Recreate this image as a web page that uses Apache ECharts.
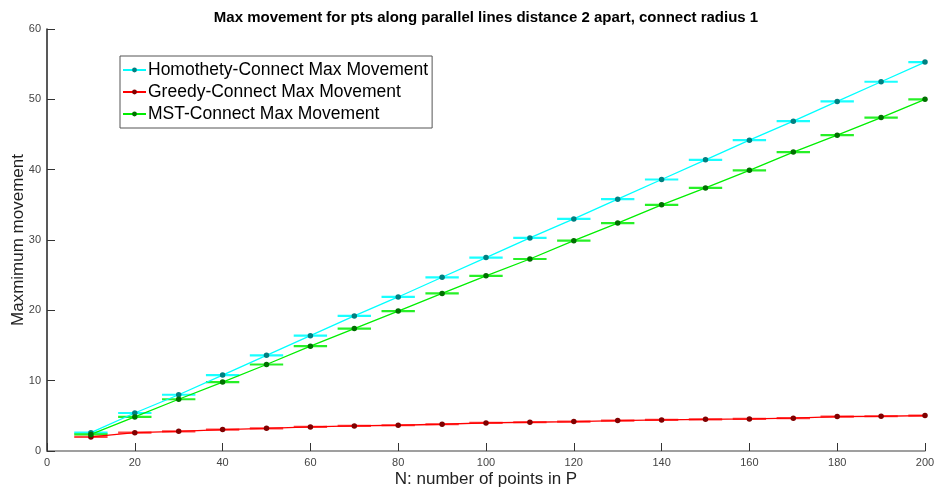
<!DOCTYPE html>
<html>
<head>
<meta charset="utf-8">
<script src="https://cdn.jsdelivr.net/npm/echarts@6/dist/echarts.min.js"></script>
<style>
  html, body { margin: 0; padding: 0; background: #fff; }
  #chart { width: 937px; height: 494px; }
</style>
</head>
<body>
<div id="chart"></div>
<script>
// Number of points in P
const nPoints = [10, 20, 30, 40, 50, 60, 70, 80, 90, 100, 110, 120, 130, 140, 150, 160, 170, 180, 190, 200];

// Max movement per connect strategy
const homothetyMax = [2.6, 5.4, 8.0, 10.8, 13.6, 16.4, 19.2, 21.9, 24.7, 27.5, 30.3, 33.0, 35.8, 38.6, 41.4, 44.2, 46.9, 49.7, 52.5, 55.3];
const greedyMax    = [2.0, 2.6, 2.8, 3.05, 3.23, 3.42, 3.57, 3.66, 3.8, 3.99, 4.09, 4.19, 4.33, 4.42, 4.5, 4.56, 4.66, 4.9, 4.94, 5.04];
const mstMax       = [2.35, 4.85, 7.36, 9.8, 12.3, 14.9, 17.4, 19.9, 22.4, 24.9, 27.3, 29.9, 32.4, 35.0, 37.4, 39.9, 42.5, 44.9, 47.4, 50.0];

// Horizontal error half-width (in N units)
const nErr = 3.8;

const xTicks = [0, 20, 40, 60, 80, 100, 120, 140, 160, 180, 200];
const yTicks = [0, 10, 20, 30, 40, 50, 60];

const seriesDefs = [
  { name: 'Homothety-Connect Max Movement', data: homothetyMax, line: '#00ffff', mark: '#008080', bar: '#00ffff' },
  { name: 'Greedy-Connect Max Movement',    data: greedyMax,    line: '#ff0000', mark: '#800000', bar: '#ff3030' },
  { name: 'MST-Connect Max Movement',       data: mstMax,       line: '#00ee00', mark: '#007000', bar: '#10ee10' }
];

const font = '"Liberation Sans", Arial, Helvetica, sans-serif';

const series = [];
seriesDefs.forEach((s, i) => {
  const pts = nPoints.map((n, k) => [n, s.data[k]]);
  // horizontal error bars
  series.push({
    type: 'custom',
    name: s.name + ' err',
    clip: true,
    z: 2,
    silent: true,
    data: pts,
    renderItem: function (params, api) {
      const x = api.value(0), y = api.value(1);
      const a = api.coord([x - nErr, y]);
      const b = api.coord([x + nErr, y]);
      return {
        type: 'line',
        shape: { x1: a[0], y1: a[1], x2: b[0], y2: b[1] },
        style: { stroke: s.bar, lineWidth: 2.2, opacity: 0.9 }
      };
    }
  });
  series.push({
    type: 'line',
    name: s.name,
    z: 3 + i,
    data: pts,
    symbol: 'circle',
    symbolSize: 5.5,
    showAllSymbol: true,
    lineStyle: { color: s.line, width: 1.3 },
    itemStyle: { color: s.mark },
    emphasis: { disabled: true },
    animation: false
  });
});

const chart = echarts.init(document.getElementById('chart'), null, { renderer: 'canvas' });
chart.setOption({
  animation: false,
  backgroundColor: '#ffffff',
  title: {
    text: 'Max movement for pts along parallel lines distance 2 apart, connect radius 1',
    left: 481,
    textAlign: 'center',
    top: 5,
    textStyle: { fontFamily: font, fontSize: 15, fontWeight: 'bold', color: '#000' }
  },
  grid: { left: 47, right: 12, top: 29, bottom: 43, containLabel: false, outerBoundsMode: 'none' },
  legend: {
    data: seriesDefs.map(s => s.name),
    orient: 'vertical',
    left: 120,
    top: 56,
    itemWidth: 23,
    itemHeight: 6,
    itemGap: 2,
    padding: [4, 4, 4, 2],
    borderColor: '#555',
    borderWidth: 1,
    backgroundColor: '#fff',
    textStyle: { fontFamily: font, fontSize: 17.5, color: '#000', lineHeight: 20, padding: [0, 0, 0, -3] }
  },
  xAxis: {
    type: 'value',
    min: 0, max: 200, interval: 20,
    name: 'N: number of points in P',
    nameLocation: 'middle',
    nameGap: 20,
    nameMoveOverlap: false,
    nameTextStyle: { fontFamily: font, fontSize: 17, color: '#222' },
    axisLine: { show: true, lineStyle: { color: '#808080', width: 1.5 } },
    axisTick: { show: true, inside: true, length: 8, lineStyle: { color: '#333', width: 1 } },
    axisLabel: { fontFamily: font, fontSize: 11, color: '#444', margin: 6,
      formatter: v => xTicks.includes(v) ? String(v) : '' },
    splitLine: { show: false }
  },
  yAxis: {
    type: 'value',
    min: 0, max: 60, interval: 10,
    name: 'Maxmimum movement',
    nameLocation: 'middle',
    nameGap: 20,
    nameRotate: 90,
    nameMoveOverlap: false,
    nameTextStyle: { fontFamily: font, fontSize: 17, color: '#222' },
    axisLine: { show: true, lineStyle: { color: '#222', width: 1.5 } },
    axisTick: { show: true, inside: true, length: 8, lineStyle: { color: '#333', width: 1 } },
    axisLabel: { fontFamily: font, fontSize: 11, color: '#444', margin: 6,
      formatter: v => yTicks.includes(v) ? String(v) : '' },
    splitLine: { show: false }
  },
  series: series
});
</script>
</body>
</html>
